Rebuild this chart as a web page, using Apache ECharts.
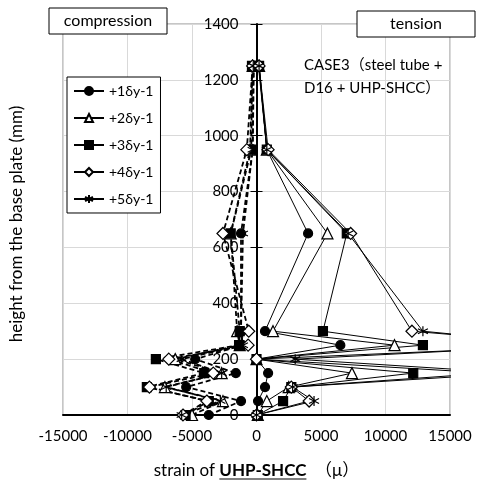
<!DOCTYPE html>
<html>
<head>
<meta charset="utf-8">
<script src="https://cdn.jsdelivr.net/npm/echarts@6/dist/echarts.min.js"></script>
<style>
  html, body { margin: 0; padding: 0; background: #fff; }
  #chart { width: 478px; height: 484px; }
</style>
</head>
<body>
<div id="chart"></div>
<script>
// gauge heights (mm)
var heights = [0, 50, 100, 150, 200, 250, 300, 650, 950, 1250];
var names = ['+1δy-1', '+2δy-1', '+3δy-1', '+4δy-1', '+5δy-1'];

// tension side gauges (solid)
var tension1 = [0, 120, 660, 900, 0, 6500, 660, 4000, 800, 150];
var tension2 = [100, 800, 2500, 7400, 0, 10700, 1280, 5500, 800, 200];
var tension3 = [100, 2060, 2700, 12150, 0, 12900, 5150, 7000, 800, 200];
var tension4 = [0, 4080, 2700, 18000, 0, 25000, 12050, 7300, 900, 200];
var tension5 = [0, 4460, 2800, 20000, 3000, 24000, 12900, 7100, 800, 200];

// compression side gauges (dashed)
var comp1 = [-3700, -1200, -5450, -1600, -4750, -1100, -1200, -1200, -300, -200];
var comp2 = [-5000, -2600, -7100, -2700, -6300, -1300, -1500, -2000, -500, -300];
var comp3 = [-5500, -3700, -8500, -4050, -7800, -1350, -1300, -2000, -400, -350];
var comp4 = [-5700, -3850, -8300, -3350, -6800, -650, -600, -2600, -750, -300];
var comp5 = [-5800, -2800, -7000, -2700, -5800, -1050, -1200, -1050, -300, -250];

var xTicks = { min: -15000, max: 15000, interval: 5000 };
var yTicks = { min: 0, max: 1400, interval: 200 };

var FONT = 'Lato, "Noto Sans", "Noto Sans CJK JP", sans-serif';
var star = 'path://M5,0L5,10M0.67,2.5L9.33,7.5M0.67,7.5L9.33,2.5';

var markers = [
  { symbol: 'circle', size: 9, fill: '#000' },
  { symbol: 'triangle', size: 11, fill: '#fff' },
  { symbol: 'rect', size: 9, fill: '#000' },
  { symbol: 'diamond', size: 12, fill: '#fff' },
  { symbol: star, size: 10, fill: '#000' }
];
var tension = [tension1, tension2, tension3, tension4, tension5];
var comp = [comp1, comp2, comp3, comp4, comp5];

var GRID = { left: 63, right: 28, top: 24, bottom: 61 };
var W = 478;
// y axis sits on x = 0, which is the middle of the plot
var yOffset = -(W - GRID.left - GRID.right) / 2;

function pairs(vals) {
  return heights.map(function (h, i) { return [vals[i], h]; });
}

function makeSeries(vals, i, dashed) {
  var m = markers[i];
  return {
    type: 'line',
    name: names[i],
    data: pairs(vals),
    symbol: m.symbol,
    symbolSize: m.size,
    showAllSymbol: true,
    clip: true,
    z: dashed ? 3 : 4,
    lineStyle: { color: '#000', width: dashed ? 1.8 : 1, type: dashed ? [5, 3] : 'solid' },
    itemStyle: { color: m.fill, borderColor: '#000', borderWidth: 1.2 }
  };
}

var series = [];
tension.forEach(function (v, i) { series.push(makeSeries(v, i, false)); });
comp.forEach(function (v, i) { series.push(makeSeries(v, i, true)); });

// x axis name, with the underline under the bold part
var nameA = 'strain of ', nameB = 'UHP-SHCC', nameC = '  （μ）';
var ctx = document.createElement('canvas').getContext('2d');
ctx.font = '17px ' + FONT;
var wA = ctx.measureText(nameA).width, wC = ctx.measureText(nameC).width;
ctx.font = 'bold 17px ' + FONT;
var wB = ctx.measureText(nameB).width;
var nameLeft = GRID.left + (W - GRID.left - GRID.right) / 2 - (wA + wB + wC) / 2;

function plain(v) { return String(v); }

var chart = echarts.init(document.getElementById('chart'));
chart.setOption({
  backgroundColor: '#fff',
  animation: false,
  textStyle: { fontFamily: FONT },
  grid: {
    left: GRID.left, right: GRID.right, top: GRID.top, bottom: GRID.bottom,
    show: true, borderColor: '#8c8c8c', borderWidth: 1
  },
  legend: {
    data: names,
    orient: 'vertical',
    left: 67, top: 77,
    itemWidth: 30, itemHeight: 10, itemGap: 13,
    padding: [7, 7, 7, 6],
    backgroundColor: '#fff',
    borderColor: '#000', borderWidth: 1,
    textStyle: { fontSize: 14, color: '#000', fontFamily: FONT }
  },
  xAxis: {
    type: 'value',
    min: xTicks.min, max: xTicks.max, interval: xTicks.interval,
    axisLine: { onZero: false, lineStyle: { color: '#000', width: 2 } },
    axisTick: { show: false },
    axisLabel: { color: '#000', fontSize: 15, margin: 14, fontFamily: FONT, formatter: plain },
    splitLine: { lineStyle: { color: '#d9d9d9', width: 1 } },
    name: '{a|' + nameA + '}{b|' + nameB + '}{a|' + nameC + '}',
    nameLocation: 'middle',
    nameGap: 47,
    nameTextStyle: {
      rich: {
        a: { fontSize: 17, color: '#000', fontFamily: FONT },
        b: { fontSize: 17, color: '#000', fontWeight: 'bold', fontFamily: FONT }
      }
    }
  },
  yAxis: [{
    type: 'value',
    position: 'left',
    offset: yOffset,
    min: yTicks.min, max: yTicks.max, interval: yTicks.interval,
    axisLine: { show: true, onZero: false, lineStyle: { color: '#000', width: 2 } },
    axisTick: { show: true, length: 6, lineStyle: { color: '#000' } },
    axisLabel: { color: '#000', fontSize: 15, margin: 18, fontFamily: FONT, formatter: plain },
    splitLine: { lineStyle: { color: '#d9d9d9', width: 1 } }
  }, {
    type: 'value',
    position: 'left',
    offset: yOffset,
    min: yTicks.min, max: yTicks.max, interval: yTicks.interval,
    axisLine: { show: false, onZero: false },
    axisTick: { show: true, inside: true, length: 6, lineStyle: { color: '#000' } },
    axisLabel: { show: false },
    splitLine: { show: false }
  }],
  graphic: [
    {
      type: 'rect', z: 100,
      shape: { x: 49, y: 8, width: 118, height: 26 },
      style: { fill: '#fff', stroke: '#000', lineWidth: 1 }
    },
    {
      type: 'text', z: 101, x: 108, y: 21,
      style: { text: 'compression', font: '16px ' + FONT, fill: '#000', align: 'center', verticalAlign: 'middle' }
    },
    {
      type: 'rect', z: 100,
      shape: { x: 357, y: 11, width: 118, height: 26 },
      style: { fill: '#fff', stroke: '#000', lineWidth: 1 }
    },
    {
      type: 'text', z: 101, x: 416, y: 24,
      style: { text: 'tension', font: '16px ' + FONT, fill: '#000', align: 'center', verticalAlign: 'middle' }
    },
    {
      type: 'text', z: 101, x: 304, y: 54,
      style: { text: 'CASE3（steel tube +\nD16 + UHP-SHCC）', font: '15px ' + FONT, fill: '#000', lineHeight: 23 }
    },
    {
      type: 'text', z: 101, x: 17, y: 224, rotation: Math.PI / 2,
      style: { text: 'height from the base plate (mm)', font: '17px ' + FONT, fill: '#000', align: 'center', verticalAlign: 'middle' }
    },
    {
      type: 'line', z: 101,
      shape: { x1: nameLeft + wA, y1: 479, x2: nameLeft + wA + wB, y2: 479 },
      style: { stroke: '#000', lineWidth: 1.2 }
    }
  ],
  series: series
});
</script>
</body>
</html>
